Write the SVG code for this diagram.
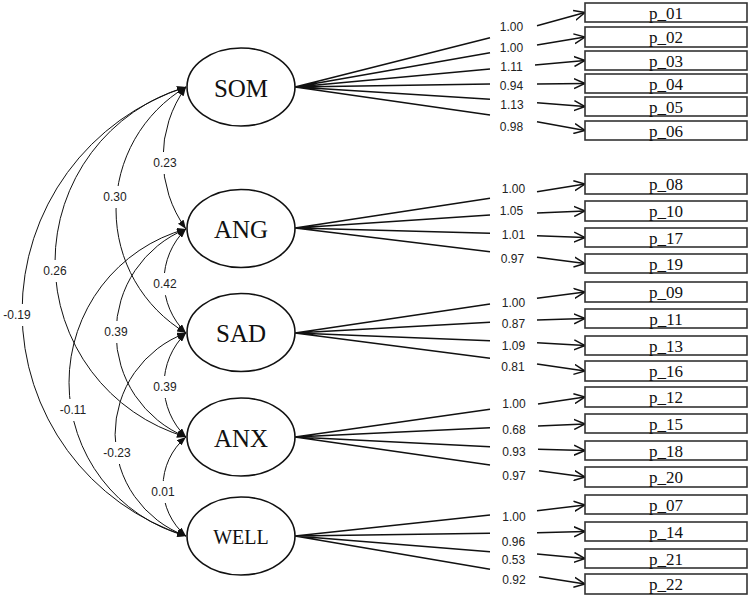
<svg xmlns="http://www.w3.org/2000/svg" width="750" height="597" viewBox="0 0 750 597">
<defs>
<style>
.lat ellipse{fill:#fff;stroke:#111;stroke-width:1.6}
.lat text{font-family:"Liberation Serif","DejaVu Serif",serif;font-size:25px;fill:#111;text-anchor:middle}
.box rect{fill:#fff;stroke:#333;stroke-width:1.6}
.box text{font-family:"Liberation Serif","DejaVu Serif",serif;font-size:17px;fill:#111;text-anchor:middle}
.load{stroke:#111;stroke-width:1.5;fill:none}
.arr{stroke:#111;stroke-width:1.5;fill:none;marker-end:url(#open)}
.cov{stroke:#111;stroke-width:1;fill:none;marker-start:url(#fill);marker-end:url(#fill)}
.lbl{font-family:"Liberation Sans","DejaVu Sans",sans-serif;font-size:12px;fill:#222;text-anchor:middle}
.bg{fill:#fff}
</style>
<marker id="open" viewBox="0 0 12 12" refX="11" refY="6" markerWidth="12" markerHeight="12" markerUnits="userSpaceOnUse" orient="auto">
<path d="M0,1 L11,6 L0,11" fill="none" stroke="#111" stroke-width="1.5"/>
</marker>
<marker id="fill" viewBox="0 0 9 7" refX="9" refY="3.5" markerWidth="9" markerHeight="7" markerUnits="userSpaceOnUse" orient="auto-start-reverse">
<path d="M0,0 L9,3.5 L0,7 z" fill="#111"/>
</marker>
</defs>
<rect width="750" height="597" fill="#fff"/>

<g id="connectors">
<!-- covariances -->
<path class="cov" d="M186,87 A121.1,121.1 0 0 0 186,229"/>
<path class="cov" d="M186,87 A143.1,143.1 0 0 0 186,333"/>
<path class="cov" d="M186,87 A182.4,182.4 0 0 0 186,437"/>
<path class="cov" d="M186,87 A235.7,235.7 0 0 0 186,536"/>
<path class="cov" d="M186,229 A72.5,72.5 0 0 0 186,333"/>
<path class="cov" d="M186,229 A112.3,112.3 0 0 0 186,437"/>
<path class="cov" d="M186,229 A159.2,159.2 0 0 0 186,536"/>
<path class="cov" d="M186,333 A72.5,72.5 0 0 0 186,437"/>
<path class="cov" d="M186,333 A108.1,108.1 0 0 0 186,536"/>
<path class="cov" d="M186,437 A64.8,64.8 0 0 0 186,536"/>
<g>
<rect class="bg" x="151" y="152" width="28" height="22"/><text class="lbl" x="165" y="167">0.23</text>
<rect class="bg" x="101" y="186" width="28" height="22"/><text class="lbl" x="115" y="201">0.30</text>
<rect class="bg" x="41" y="260" width="28" height="22"/><text class="lbl" x="55" y="275">0.26</text>
<rect class="bg" x="2" y="304" width="30" height="22"/><text class="lbl" x="17" y="319">-0.19</text>
<rect class="bg" x="151" y="273" width="28" height="22"/><text class="lbl" x="165" y="288">0.42</text>
<rect class="bg" x="102" y="321" width="28" height="22"/><text class="lbl" x="116" y="336">0.39</text>
<rect class="bg" x="58" y="399" width="30" height="22"/><text class="lbl" x="73" y="414">-0.11</text>
<rect class="bg" x="151" y="376" width="28" height="22"/><text class="lbl" x="165" y="391">0.39</text>
<rect class="bg" x="102" y="442" width="30" height="22"/><text class="lbl" x="117" y="457">-0.23</text>
<rect class="bg" x="149" y="481" width="28" height="22"/><text class="lbl" x="163" y="496">0.01</text>
</g>
<!-- loadings SOM -->
<path class="load" d="M295,87 L490,37.7 M295,87 L490,52.7 M295,87 L490,69 M295,87 L490,84 M295,87 L490,99.3 M295,87 L490,115"/>
<!-- loadings ANG -->
<path class="load" d="M295,228 L490,198.3 M295,228 L490,215 M295,228 L490,233.3 M295,228 L490,251.7"/>
<!-- loadings SAD -->
<path class="load" d="M295,333 L490,304 M295,333 L490,322.3 M295,333 L490,340.7 M295,333 L490,358.3"/>
<!-- loadings ANX -->
<path class="load" d="M295,437 L490,409.3 M295,437 L490,427.7 M295,437 L490,446.7 M295,437 L490,465"/>
<!-- loadings WELL -->
<path class="load" d="M295,536 L490,515 M295,536 L490,533.3 M295,536 L490,551.7 M295,536 L490,569.3"/>
<!-- arrows to indicators -->
<path class="arr" d="M537,25.7 L585,12.5"/>
<path class="arr" d="M537,45 L585,37"/>
<path class="arr" d="M535,65 L585,60.5"/>
<path class="arr" d="M537,84 L585,83.5"/>
<path class="arr" d="M537,102.7 L585,106.5"/>
<path class="arr" d="M537,121.7 L585,130.5"/>
<path class="arr" d="M537,191.7 L585,184"/>
<path class="arr" d="M537,213 L585,211"/>
<path class="arr" d="M537,235.7 L585,237.5"/>
<path class="arr" d="M537,257.3 L585,263.5"/>
<path class="arr" d="M537,298.3 L585,292"/>
<path class="arr" d="M537,320 L585,318.5"/>
<path class="arr" d="M537,342.7 L585,345.5"/>
<path class="arr" d="M537,364 L585,371"/>
<path class="arr" d="M538,404 L585,397"/>
<path class="arr" d="M538,426 L585,424"/>
<path class="arr" d="M538,449.3 L585,450.5"/>
<path class="arr" d="M539,470.7 L585,477"/>
<path class="arr" d="M537,510.7 L585,505"/>
<path class="arr" d="M537,532.7 L585,531.5"/>
<path class="arr" d="M537,554 L585,558.5"/>
<path class="arr" d="M539,576.7 L585,584"/>
<!-- loading labels -->
<text class="lbl" x="511.5" y="31">1.00</text>
<text class="lbl" x="511.5" y="52">1.00</text>
<text class="lbl" x="511.5" y="71">1.11</text>
<text class="lbl" x="511.5" y="90">0.94</text>
<text class="lbl" x="512" y="109">1.13</text>
<text class="lbl" x="511.5" y="131">0.98</text>
<text class="lbl" x="513.5" y="193">1.00</text>
<text class="lbl" x="511.5" y="215">1.05</text>
<text class="lbl" x="513.5" y="239">1.01</text>
<text class="lbl" x="512.5" y="262.5">0.97</text>
<text class="lbl" x="513.5" y="306.5">1.00</text>
<text class="lbl" x="513.5" y="327.5">0.87</text>
<text class="lbl" x="513.5" y="350">1.09</text>
<text class="lbl" x="513" y="371">0.81</text>
<text class="lbl" x="514" y="408">1.00</text>
<text class="lbl" x="514" y="434">0.68</text>
<text class="lbl" x="514" y="456">0.93</text>
<text class="lbl" x="514" y="480">0.97</text>
<text class="lbl" x="514" y="521">1.00</text>
<text class="lbl" x="513.5" y="546">0.96</text>
<text class="lbl" x="513.5" y="564">0.53</text>
<text class="lbl" x="514" y="584">0.92</text>
</g>

<g id="SOM" class="lat"><ellipse cx="241" cy="87" rx="54" ry="39"/><text x="241" y="96.5">SOM</text></g>
<g id="ANG" class="lat"><ellipse cx="241" cy="228.5" rx="54" ry="39"/><text x="241" y="238">ANG</text></g>
<g id="SAD" class="lat"><ellipse cx="241" cy="332.5" rx="54" ry="39"/><text x="241" y="342">SAD</text></g>
<g id="ANX" class="lat"><ellipse cx="241" cy="437" rx="54" ry="39"/><text x="241" y="446.5">ANX</text></g>
<g id="WELL" class="lat"><ellipse cx="241" cy="536" rx="54" ry="39"/><text x="241" y="543.5" style="font-size:20px">WELL</text></g>

<g id="p_01" class="box"><rect x="585" y="3" width="162" height="19"/><text x="666" y="19">p_01</text></g>
<g id="p_02" class="box"><rect x="585" y="27" width="162" height="20"/><text x="666" y="43">p_02</text></g>
<g id="p_03" class="box"><rect x="585" y="51" width="162" height="19"/><text x="666" y="67">p_03</text></g>
<g id="p_04" class="box"><rect x="585" y="74" width="162" height="19"/><text x="666" y="90">p_04</text></g>
<g id="p_05" class="box"><rect x="585" y="97" width="162" height="19"/><text x="666" y="113">p_05</text></g>
<g id="p_06" class="box"><rect x="585" y="121" width="162" height="19"/><text x="666" y="137">p_06</text></g>
<g id="p_08" class="box"><rect x="585" y="174" width="162" height="20"/><text x="666" y="190">p_08</text></g>
<g id="p_10" class="box"><rect x="585" y="201" width="162" height="20"/><text x="666" y="217">p_10</text></g>
<g id="p_17" class="box"><rect x="585" y="228" width="162" height="19"/><text x="666" y="244">p_17</text></g>
<g id="p_19" class="box"><rect x="585" y="254" width="162" height="19"/><text x="666" y="270">p_19</text></g>
<g id="p_09" class="box"><rect x="585" y="282" width="162" height="20"/><text x="666" y="298">p_09</text></g>
<g id="p_11" class="box"><rect x="585" y="309" width="162" height="19"/><text x="666" y="325">p_11</text></g>
<g id="p_13" class="box"><rect x="585" y="336" width="162" height="19"/><text x="666" y="352">p_13</text></g>
<g id="p_16" class="box"><rect x="585" y="361" width="162" height="20"/><text x="666" y="377">p_16</text></g>
<g id="p_12" class="box"><rect x="585" y="387" width="162" height="20"/><text x="666" y="403">p_12</text></g>
<g id="p_15" class="box"><rect x="585" y="414" width="162" height="19"/><text x="666" y="430">p_15</text></g>
<g id="p_18" class="box"><rect x="585" y="441" width="162" height="19"/><text x="666" y="457">p_18</text></g>
<g id="p_20" class="box"><rect x="585" y="467" width="162" height="20"/><text x="666" y="483">p_20</text></g>
<g id="p_07" class="box"><rect x="585" y="495" width="162" height="19"/><text x="666" y="511">p_07</text></g>
<g id="p_14" class="box"><rect x="585" y="522" width="162" height="19"/><text x="666" y="538">p_14</text></g>
<g id="p_21" class="box"><rect x="585" y="549" width="162" height="19"/><text x="666" y="565">p_21</text></g>
<g id="p_22" class="box"><rect x="585" y="574" width="162" height="20"/><text x="666" y="590">p_22</text></g>
</svg>
